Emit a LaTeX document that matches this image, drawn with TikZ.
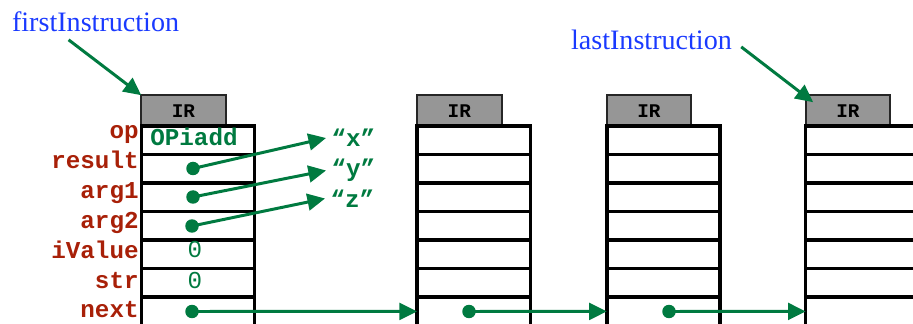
\documentclass[tikz,border=0pt]{standalone}
\usepackage{fontspec}
\setmainfont{Liberation Serif}
\setmonofont{Liberation Mono}
\usepackage{tikz}
\usetikzlibrary{arrows.meta}
\usetikzlibrary{positioning}

\definecolor{ptrgreen}{RGB}{0,122,64}
\definecolor{fieldred}{RGB}{168,32,8}
\definecolor{headblue}{RGB}{26,58,255}
\definecolor{tabgray}{RGB}{150,150,150}

\begin{document}
\begin{tikzpicture}[x=0.02cm,y=-0.02cm,
    cell/.style={shape=rectangle,draw,line width=2pt,minimum width=2.27cm,minimum height=0.57cm,inner sep=0pt,outer sep=0pt},
    irtab/.style={shape=rectangle,draw=black!85,fill=tabgray,line width=1.1pt,minimum width=1.69cm,minimum height=0.62cm,anchor=south west,outer sep=0pt,font=\ttfamily\bfseries\fontsize{11}{11}\selectfont},
    field/.style={anchor=base east,inner sep=0pt,text=fieldred,font=\ttfamily\bfseries\fontsize{13.8}{14}\selectfont},
    val/.style={inner sep=0pt,text=ptrgreen,font=\ttfamily\bfseries\fontsize{13.8}{14}\selectfont},
    dot/.style={shape=circle,fill=ptrgreen,inner sep=0pt,minimum size=0.27cm},
    ptr/.style={-{Triangle[length=10pt,width=9.5pt]},line width=1.7pt,color=ptrgreen},
    head/.style={text=headblue,inner sep=0pt,font=\fontsize{16}{16}\selectfont}]
    \useasboundingbox (0,0) rectangle (913,324);
    \clip (0,0) rectangle (913,324);

    % four IR records, tab first so the top row line sits over it
    \foreach \bx/\bn in {198/a,473.8/b,663.5/c,862.4/d} {
        \node[irtab] (\bn0) at ({\bx-56.75},126.2) {IR};
        \node[cell] (\bn1) at (\bx,140.45) {};
        \foreach \r [evaluate=\r as \p using int(\r-1)] in {2,...,7}
            \node[cell,below=0pt of \bn\p] (\bn\r) {};
    }

    % field names of the first record
    \foreach \f [count=\k] in {op,result,arg1,arg2,iValue,str,next}
        \node[field] (f\k) at (139,{139+29.83*(\k-1)}) {\f};

    \node[val,anchor=base west] (v1) at (150,145.7) {OPiadd};
    \node[val,anchor=base,font=\ttfamily\fontsize{13.8}{14}\selectfont] (v5) at (195,258) {0};
    \node[val,anchor=base,font=\ttfamily\fontsize{13.8}{14}\selectfont] (v6) at (195,289) {0};

    % pointers
    \node[dot] (a2d) at (193,168.5) {};
    \node[dot] (a3d) at (193,197) {};
    \node[dot] (a4d) at (192,226) {};
    \node[dot] (a7d) at (192,311.5) {};
    \node[dot] (b7d) at (469,311.5) {};
    \node[dot] (c7d) at (669,311.5) {};

    \node[val,anchor=west,inner sep=3pt] (sx) at (326,138) {“x”};
    \node[val,anchor=west,inner sep=3pt] (sy) at (326,170.5) {“y”};
    \node[val,anchor=west,inner sep=3pt] (sz) at (325,198.5) {“z”};

    \draw[ptr] (a2d.center) -- (sx.west);
    \draw[ptr] (a3d.center) -- (sy.west);
    \draw[ptr] (a4d.center) -- (sz.west);
    \draw[ptr] (a7d.center) -- (b7.west);
    \draw[ptr] (b7d.center) -- (c7.west);
    \draw[ptr] (c7d.center) -- (d7.west);

    % list heads
    \node[head,anchor=base west] (first) at (11.7,31.7) {firstInstruction};
    \node[head,anchor=base west] (last) at (570.7,50) {lastInstruction};
    \draw[ptr] ([xshift=-0.54cm,yshift=-0.15cm]first.south) -- (a0.north west);
    \draw[ptr] ([xshift=0.18cm,yshift=-0.13cm]last.east) -- ([xshift=0.15cm,yshift=-0.14cm]d0.north west);
\end{tikzpicture}
\end{document}
